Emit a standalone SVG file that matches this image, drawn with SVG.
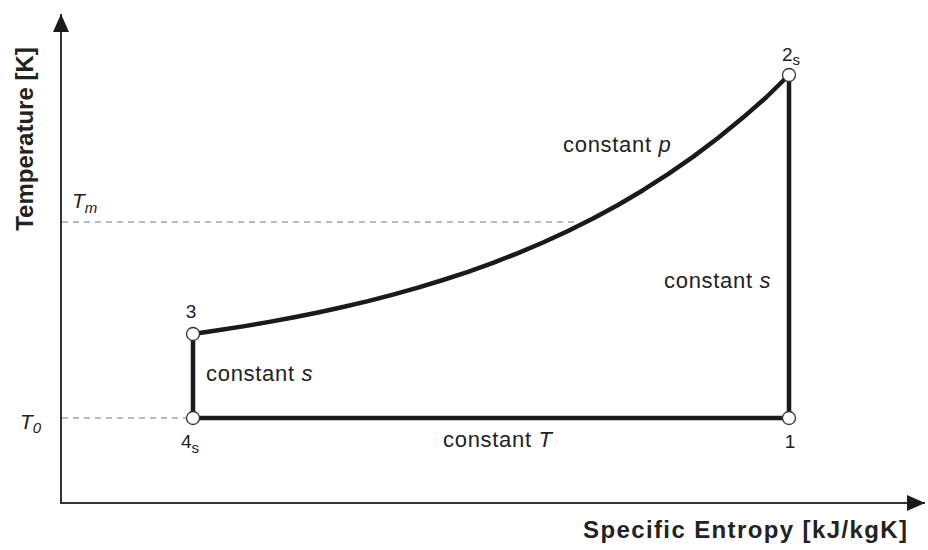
<svg xmlns="http://www.w3.org/2000/svg" width="928" height="550" viewBox="0 0 928 550">
<defs>
<style>
.axis{stroke:#333;stroke-width:2;fill:none}
.dash{stroke:#777;stroke-width:1.2;stroke-dasharray:6 5;fill:none}
.thick{stroke:#1a1a1a;stroke-width:4.5;fill:none;stroke-linejoin:round;stroke-linecap:round}
.pt{fill:#fff;stroke:#333;stroke-width:1.3}
.lbl{font-family:"Liberation Sans",Arial,sans-serif;fill:#222}
.proc{font-size:22px;letter-spacing:0.7px}
.num{font-size:19px}
.tv{font-size:21px}
.sub{font-size:15px}
.ax{font-size:24px;font-weight:bold}
.it{font-style:italic}
</style>
<marker id="arr" markerUnits="userSpaceOnUse" markerWidth="20" markerHeight="18" refX="18" refY="8" orient="auto" viewBox="0 0 20 18">
<path d="M0,0 L18,8 L0,16 Z" fill="#1a1a1a"/>
</marker>
</defs>
<rect width="928" height="550" fill="#fff"/>
<g id="axes">
<line class="axis" x1="61" y1="504" x2="61" y2="14" marker-end="url(#arr)"/>
<line class="axis" x1="60" y1="503" x2="925" y2="503" marker-end="url(#arr)"/>
<text class="lbl ax" transform="translate(33,139) rotate(-90)" text-anchor="middle">Temperature [K]</text>
<text class="lbl ax" x="583" y="538" textLength="324" lengthAdjust="spacing">Specific Entropy [kJ/kgK]</text>
</g>
<g id="reference-lines">
<line class="dash" x1="62" y1="222" x2="574" y2="222"/>
<line class="dash" x1="62" y1="418" x2="187" y2="418"/>
<text class="lbl tv it" x="72" y="208">T<tspan class="sub" dy="5">m</tspan></text>
<text class="lbl tv it" x="20" y="429">T<tspan class="sub" dy="4">0</tspan></text>
</g>
<g id="connectors">
<polyline id="const-p" class="thick" points="193,334 218,330.3 243,326.4 268,322.1 293,317.5 318,312.5 343,307 368,301.1 393,294.6 418,287.6 443,280 468,271.8 493,262.8 518,253.1 543,242.5 568,231 593,218.5 618,205 643,190.2 668,174.2 693,156.9 718,138 743,117.6 766,97.5 789,75"/>
<line id="const-s-right" class="thick" x1="789" y1="75" x2="789" y2="418"/>
<line id="const-T" class="thick" x1="193" y1="418" x2="789" y2="418"/>
<line id="const-s-left" class="thick" x1="193" y1="334" x2="193" y2="418"/>
<text class="lbl proc" x="563" y="152">constant <tspan class="it">p</tspan></text>
<text class="lbl proc" x="664" y="288">constant <tspan class="it">s</tspan></text>
<text class="lbl proc" x="206" y="381">constant <tspan class="it">s</tspan></text>
<text class="lbl proc" x="443" y="447">constant <tspan class="it">T</tspan></text>
</g>
<g id="node-1">
<circle class="pt" cx="789" cy="418" r="6.5"/>
<text class="lbl num" x="790" y="448" text-anchor="middle">1</text>
</g>
<g id="node-2s">
<circle class="pt" cx="789" cy="75" r="6.5"/>
<text class="lbl num" x="782" y="61">2<tspan class="sub" dy="4">s</tspan></text>
</g>
<g id="node-3">
<circle class="pt" cx="193" cy="334" r="6.5"/>
<text class="lbl num" x="191" y="318" text-anchor="middle">3</text>
</g>
<g id="node-4s">
<circle class="pt" cx="193" cy="418" r="6.5"/>
<text class="lbl num" x="181" y="448">4<tspan class="sub" dy="5">s</tspan></text>
</g>
</svg>
